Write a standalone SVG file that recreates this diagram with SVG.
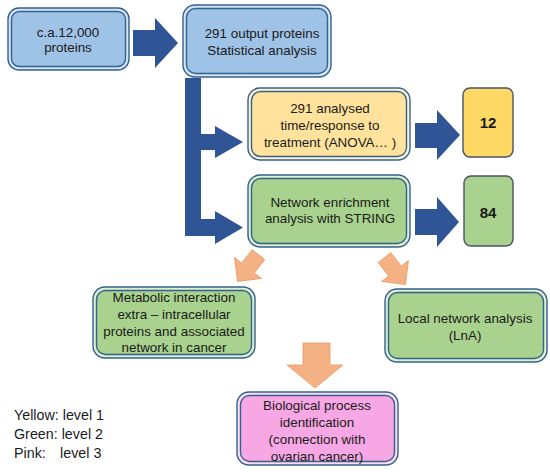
<svg xmlns="http://www.w3.org/2000/svg" width="550" height="472" viewBox="0 0 550 472">
<defs>
<style>
text{font-family:"Liberation Sans",Arial,sans-serif;font-size:13.4px;fill:#1a1a1a;text-anchor:middle}
.o{stroke:#35618f;stroke-width:1.4}
.i{stroke:#35618f;stroke-width:1.4}
.blue{fill:#9fc2e7}.blueg{fill:#d4e3f3}
.yel{fill:#ffe39c}.yelg{fill:#fff3d2}
.grn{fill:#a8d28d}.grng{fill:#dcefcf}
.pnk{fill:#f7a8e4}.pnkg{fill:#fcdcf4}
.arr{fill:#2f5597}
.oa{fill:#f4b183;stroke:#eb9a62;stroke-width:0.8}
.num{font-weight:bold;font-size:15px}
.leg{text-anchor:start;font-size:14.3px}
</style>
</defs>
<g id="connectors">
<polygon class="arr" points="133,30 155,30 155,18 178,43 155,68 155,56 133,56"/>
<polygon class="arr" points="185,78 201,78 201,134 215,134 215,126 243,142 215,158 215,150 201,150 201,219 215,219 215,211 243,227.5 215,244 215,236 185,236"/>
<polygon class="arr" points="415,123 437,123 437,110 460,135 437,160 437,148 415,148"/>
<polygon class="arr" points="415,209 437,209 437,197 459,222 437,247 437,235 415,235"/>
<polygon class="oa" transform="translate(248,268) rotate(38)" points="-8,-17 8,-17 8,0 17,0 0,17 -17,0 -8,0"/>
<polygon class="oa" transform="translate(395,271) rotate(-38)" points="-8,-17 8,-17 8,0 17,0 0,17 -17,0 -8,0"/>
<polygon class="oa" points="303,343 330,343 330,365 343,365 315,388 287,365 303,365"/>
</g>
<g id="n1">
<rect class="o blueg" x="8" y="8" width="121" height="62" rx="11"/>
<rect class="i blue" x="11.5" y="11.5" width="114" height="55" rx="8"/>
<text x="68" y="37">c.a.12,000</text>
<text x="68" y="52">proteins</text>
</g>
<g id="n2">
<rect class="o blueg" x="183" y="5" width="148" height="72" rx="12"/>
<rect class="i blue" x="186.5" y="8.5" width="141" height="65" rx="9"/>
<text x="262" y="38">291 output proteins</text>
<text x="262" y="55">Statistical analysis</text>
</g>
<g id="n3">
<rect class="o yelg" x="248" y="88" width="162" height="72" rx="12"/>
<rect class="i yel" x="251.5" y="91.5" width="155" height="65" rx="9"/>
<text x="330" y="113">291 analysed</text>
<text x="330" y="130">time/response to</text>
<text x="330" y="147">treatment (ANOVA… )</text>
</g>
<g id="n4">
<rect x="463" y="88" width="50" height="69" rx="7" fill="#ffd966" stroke="#4a5361" stroke-width="1.4"/>
<text class="num" x="488" y="128">12</text>
</g>
<g id="n5">
<rect class="o grng" x="248" y="175" width="162" height="72" rx="12"/>
<rect class="i grn" x="251.5" y="178.5" width="155" height="65" rx="9"/>
<text x="330" y="207">Network enrichment</text>
<text x="330" y="223">analysis with STRING</text>
</g>
<g id="n6">
<rect x="464" y="176" width="49" height="70" rx="7" fill="#a8d28d" stroke="#4a5361" stroke-width="1.4"/>
<text class="num" x="488" y="218">84</text>
</g>
<g id="n7">
<rect class="o grng" x="93" y="287" width="162" height="71" rx="12"/>
<rect class="i grn" x="96.5" y="290.5" width="155" height="64" rx="9"/>
<text x="174" y="302">Metabolic interaction</text>
<text x="174" y="319">extra – intracellular</text>
<text x="174" y="336">proteins and associated</text>
<text x="174" y="352">network in cancer</text>
</g>
<g id="n8">
<rect class="o grng" x="385" y="289" width="162" height="73" rx="12"/>
<rect class="i grn" x="388.5" y="292.5" width="155" height="66" rx="9"/>
<text x="465" y="323">Local network analysis</text>
<text x="465" y="340">(LnA)</text>
</g>
<g id="n9">
<rect class="o pnkg" x="237" y="392" width="161" height="73" rx="12"/>
<rect class="i pnk" x="240.5" y="395.5" width="154" height="66" rx="9"/>
<text x="317" y="410">Biological process</text>
<text x="317" y="427">identification</text>
<text x="317" y="444">(connection with</text>
<text x="317" y="461">ovarian cancer)</text>
</g>
<g id="legend">
<text class="leg" x="14" y="420">Yellow: level 1</text>
<text class="leg" x="14" y="439">Green: level 2</text>
<text class="leg" x="14" y="458">Pink:<tspan x="60">level 3</tspan></text>
</g>
</svg>
